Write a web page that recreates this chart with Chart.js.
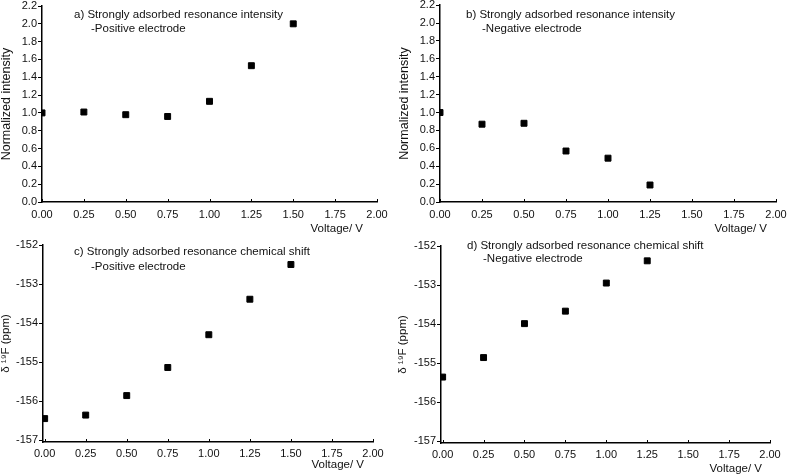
<!DOCTYPE html>
<html>
<head>
<meta charset="utf-8">
<script src="https://cdn.jsdelivr.net/npm/chart.js@4/dist/chart.umd.min.js"></script>
<style>
  body { margin: 0; background: #fff; }
  #wrap { position: relative; width: 787px; height: 475px; }
  canvas { position: absolute; }
</style>
</head>
<body>
<div id="wrap">
  <canvas id="panelA" width="390" height="235" style="left:0;top:0"></canvas>
  <canvas id="panelB" width="397" height="235" style="left:390px;top:0"></canvas>
  <canvas id="panelC" width="390" height="240" style="left:0;top:235px"></canvas>
  <canvas id="panelD" width="397" height="240" style="left:390px;top:235px"></canvas>
</div>
<script>
// data
const voltagePositive = [0, 0.25, 0.5, 0.75, 1.0, 1.25, 1.5];
const voltageNegative = [0, 0.25, 0.5, 0.75, 1.0, 1.25];
const intensityPositive = [1.0, 1.01, 0.98, 0.96, 1.13, 1.53, 2.0];
const intensityNegative = [1.0, 0.87, 0.88, 0.57, 0.49, 0.19];
const shiftPositive = [-156.45, -156.36, -155.86, -155.14, -154.30, -153.39, -152.50];
const shiftNegative = [-155.36, -154.86, -153.99, -153.67, -152.95, -152.38];

// tick values
const voltageTicks = [0, 0.25, 0.5, 0.75, 1.0, 1.25, 1.5, 1.75, 2.0];
const intensityTicks = [0, 0.2, 0.4, 0.6, 0.8, 1.0, 1.2, 1.4, 1.6, 1.8, 2.0, 2.2];
const shiftTicks = [-157, -156, -155, -154, -153, -152];

Chart.defaults.font.family = '"Liberation Sans", Arial, Helvetica, sans-serif';
Chart.defaults.color = '#111';

// panel captions, x-axis label, and short x ticks that point into the plot
const panelText = {
  id: 'panelText',
  afterDraw(chart, args, opts) {
    const ctx = chart.ctx;
    ctx.save();
    ctx.fillStyle = '#111';
    ctx.font = '11.5px "Liberation Sans", Arial, sans-serif';
    ctx.textBaseline = 'middle';
    opts.lines.forEach(l => {
      ctx.textAlign = l.align || 'left';
      ctx.fillText(l.text, l.x, l.y);
    });

    const xs = chart.scales.x;
    const y0 = chart.chartArea.bottom;
    ctx.strokeStyle = '#000';
    ctx.lineWidth = 1;
    xs.ticks.forEach(t => {
      const px = Math.round(xs.getPixelForValue(t.value)) + 0.5;
      ctx.beginPath();
      ctx.moveTo(px, y0);
      ctx.lineTo(px, y0 - 3);
      ctx.stroke();
    });
    ctx.restore();
  }
};

function makePanel(id, p) {
  const points = p.xs.map((x, i) => ({ x: x, y: p.ys[i] }));
  return new Chart(document.getElementById(id), {
    type: 'scatter',
    data: {
      datasets: [{
        data: points,
        pointStyle: 'rect',
        pointRadius: 4.2,
        backgroundColor: '#000',
        borderColor: '#000',
        borderWidth: 1
      }]
    },
    options: {
      responsive: false,
      animation: false,
      layout: { padding: { top: p.padTop, right: p.padRight, bottom: 0, left: 0 } },
      plugins: {
        legend: { display: false },
        tooltip: { enabled: false },
        panelText: { lines: p.lines }
      },
      scales: {
        x: {
          type: 'linear',
          bounds: 'data',
          min: p.xMin,
          max: 2,
          grid: { display: false, drawTicks: false },
          border: { color: '#000', width: 1.5 },
          ticks: {
            autoSkip: false,
            maxRotation: 0,
            padding: p.xTickPad,
            font: { size: 11 },
            callback: v => Number(v).toFixed(2)
          },
          afterBuildTicks: s => { s.ticks = voltageTicks.map(v => ({ value: v })); },
          afterFit: s => { s.height = p.xH; s.paddingLeft = 0; s.paddingRight = 0; }
        },
        y: {
          type: 'linear',
          bounds: 'data',
          min: p.yMin,
          max: p.yMax,
          grid: { drawOnChartArea: false, tickLength: 4, color: '#000', lineWidth: 1 },
          border: { color: '#000', width: 1.5 },
          ticks: {
            autoSkip: false,
            padding: 1,
            font: { size: 11 },
            callback: v => Number(v).toFixed(p.yDigits)
          },
          afterBuildTicks: s => { s.ticks = p.yTicks.map(v => ({ value: v })); },
          title: {
            display: true,
            text: p.yLabel,
            font: { size: p.yLabelSize, lineHeight: 1 },
            padding: { top: p.yTitlePad, bottom: 0 }
          },
          afterFit: s => { s.width = p.yW; s.paddingTop = 0; s.paddingBottom = 0; }
        }
      }
    },
    plugins: [panelText]
  });
}

makePanel('panelA', {
  xs: voltagePositive, ys: intensityPositive, xMin: 0,
  yTicks: intensityTicks, yMin: 0, yMax: 2.2, yDigits: 1,
  yLabel: 'Normalized intensity', yLabelSize: 12.5,
  yW: 42, padTop: 6, padRight: 13, xH: 33, yTitlePad: 0, xTickPad: 6,
  lines: [
    { text: 'a) Strongly adsorbed resonance intensity', x: 74, y: 15 },
    { text: '-Positive electrode', x: 91, y: 29 },
    { text: 'Voltage/ V', x: 363, y: 229, align: 'right' }
  ]
});

makePanel('panelB', {
  xs: voltageNegative, ys: intensityNegative, xMin: 0,
  yTicks: intensityTicks, yMin: 0, yMax: 2.2, yDigits: 1,
  yLabel: 'Normalized intensity', yLabelSize: 12.5,
  yW: 50, padTop: 5, padRight: 11, xH: 33, yTitlePad: 8, xTickPad: 6,
  lines: [
    { text: 'b) Strongly adsorbed resonance intensity', x: 76, y: 15 },
    { text: '-Negative electrode', x: 92, y: 29 },
    { text: 'Voltage/ V', x: 377, y: 229, align: 'right' }
  ]
});

makePanel('panelC', {
  xs: voltagePositive, ys: shiftPositive, xMin: -0.01,
  yTicks: shiftTicks, yMin: -157.05, yMax: -152, yDigits: 0,
  yLabel: 'δ ¹⁹F (ppm)', yLabelSize: 11.5,
  yW: 43, padTop: 10, padRight: 17, xH: 33, yTitlePad: 0, xTickPad: 5,
  lines: [
    { text: 'c) Strongly adsorbed resonance chemical shift', x: 74, y: 17 },
    { text: '-Positive electrode', x: 91, y: 32 },
    { text: 'Voltage/ V', x: 364, y: 230, align: 'right' }
  ]
});

makePanel('panelD', {
  xs: voltageNegative, ys: shiftNegative, xMin: -0.01,
  yTicks: shiftTicks, yMin: -157.05, yMax: -152, yDigits: 0,
  yLabel: 'δ ¹⁹F (ppm)', yLabelSize: 11.5,
  yW: 51, padTop: 11, padRight: 17, xH: 32, yTitlePad: 7, xTickPad: 5,
  lines: [
    { text: 'd) Strongly adsorbed resonance chemical shift', x: 77, y: 11 },
    { text: '-Negative electrode', x: 93, y: 24 },
    { text: 'Voltage/ V', x: 372, y: 234, align: 'right' }
  ]
});
</script>
</body>
</html>
